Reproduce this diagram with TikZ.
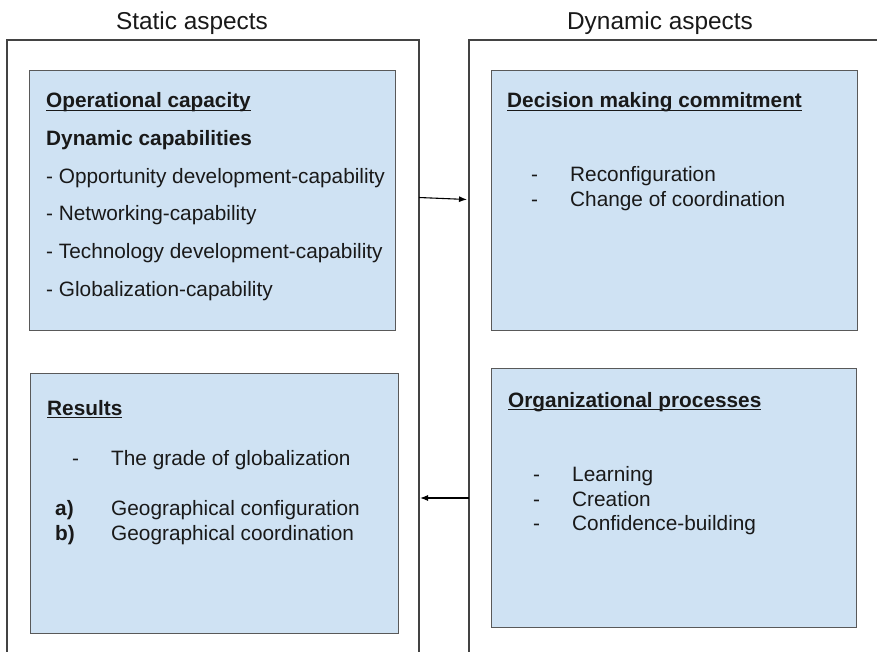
\documentclass[tikz,border=0pt]{standalone}
\usepackage{fontspec}
\setmainfont{Liberation Sans}
\usepackage{tikz}
\usetikzlibrary{arrows, arrows.meta, positioning}

\definecolor{boxblue}{HTML}{CFE2F3}
\definecolor{boxline}{HTML}{595959}
\definecolor{frameline}{HTML}{434343}

% underline that sits at a fixed depth, as in the drawing
\newcommand{\headul}[1]{\setbox0\hbox{\bfseries #1}\rlap{\rule[-3pt]{\wd0}{1.1pt}}\box0}

\begin{document}
\begin{tikzpicture}[>={Latex[length=8pt, width=6pt]}, x=1pt, y=-1pt,
  frame/.style={draw=frameline, line width=1.2pt},
  panel/.style={draw=boxline, fill=boxblue, line width=1.2pt, anchor=north west, inner sep=0pt},
  txt/.style={anchor=base west, inner sep=0pt, text=black!90, font=\fontsize{20.8}{25}\selectfont},
  ttl/.style={anchor=base, inner sep=0pt, text=black!90, font=\fontsize{24.4}{29}\selectfont}]
  \useasboundingbox (0,0) rectangle (877,652);

  % titles
  \node[ttl] (statttl) at (192,30) {Static aspects};
  \node[ttl] (dynttl) at (660,30) {Dynamic aspects};

  % the two open frames
  \draw[frame] (7,652) |- (419,40) -- (419,652);
  \draw[frame] (469,652) |- (877,40);
  \coordinate (statR) at (419,197.5);
  \coordinate (dynL) at (467,199.5);
  \coordinate (statRb) at (420,498);
  \coordinate (dynLb) at (469,498);

  % static side
  \node[panel, minimum width=366pt, minimum height=260pt] (opcap) at (29,70) {};
  \node[txt] (opcapT) at (46,108) {\headul{Operational capacity}};
  \node[txt, font=\fontsize{20.8}{25}\selectfont\bfseries] (dyncap) at (46,146) {Dynamic capabilities};
  \node[txt] (cap1) at (46,183.5) {- Opportunity development-capability};
  \node[txt] (cap2) at (46,221) {- Networking-capability};
  \node[txt] (cap3) at (46,258.5) {- Technology development-capability};
  \node[txt] (cap4) at (46,296) {- Globalization-capability};

  \node[panel, minimum width=368pt, minimum height=260pt] (results) at (30,373) {};
  \node[txt] (resT) at (47,415) {\headul{Results}};
  \node[txt] (resd) at (72,465) {-};
  \node[txt] (res1) at (111,465) {The grade of globalization};
  \node[txt, font=\fontsize{20.8}{25}\selectfont\bfseries] (resa) at (55,515) {a)};
  \node[txt] (res2) at (111,515) {Geographical configuration};
  \node[txt, font=\fontsize{20.8}{25}\selectfont\bfseries] (resb) at (55,540) {b)};
  \node[txt] (res3) at (111,540) {Geographical coordination};

  % dynamic side
  \node[panel, minimum width=366pt, minimum height=260pt] (decision) at (491,70) {};
  \node[txt] (decT) at (507,108) {\headul{Decision making commitment}};
  \node[txt] (decd1) at (531,182) {-};
  \node[txt] (dec1) at (570,182) {Reconfiguration};
  \node[txt] (decd2) at (531,207) {-};
  \node[txt] (dec2) at (570,207) {Change of coordination};

  \node[panel, minimum width=365pt, minimum height=259pt] (orgproc) at (491,368) {};
  \node[txt] (orgT) at (508,407) {\headul{Organizational processes}};
  \node[txt] (orgd1) at (533,481) {-};
  \node[txt] (org1) at (572,481) {Learning};
  \node[txt] (orgd2) at (533,506) {-};
  \node[txt] (org2) at (572,506) {Creation};
  \node[txt] (orgd3) at (533,530) {-};
  \node[txt] (org3) at (572,530) {Confidence-building};

  % connectors between the frames
  \draw[->, line width=1.1pt] (statR) -- (dynL);
  \draw[->, line width=1.1pt] (dynLb) -- (statRb);
\end{tikzpicture}
\end{document}
